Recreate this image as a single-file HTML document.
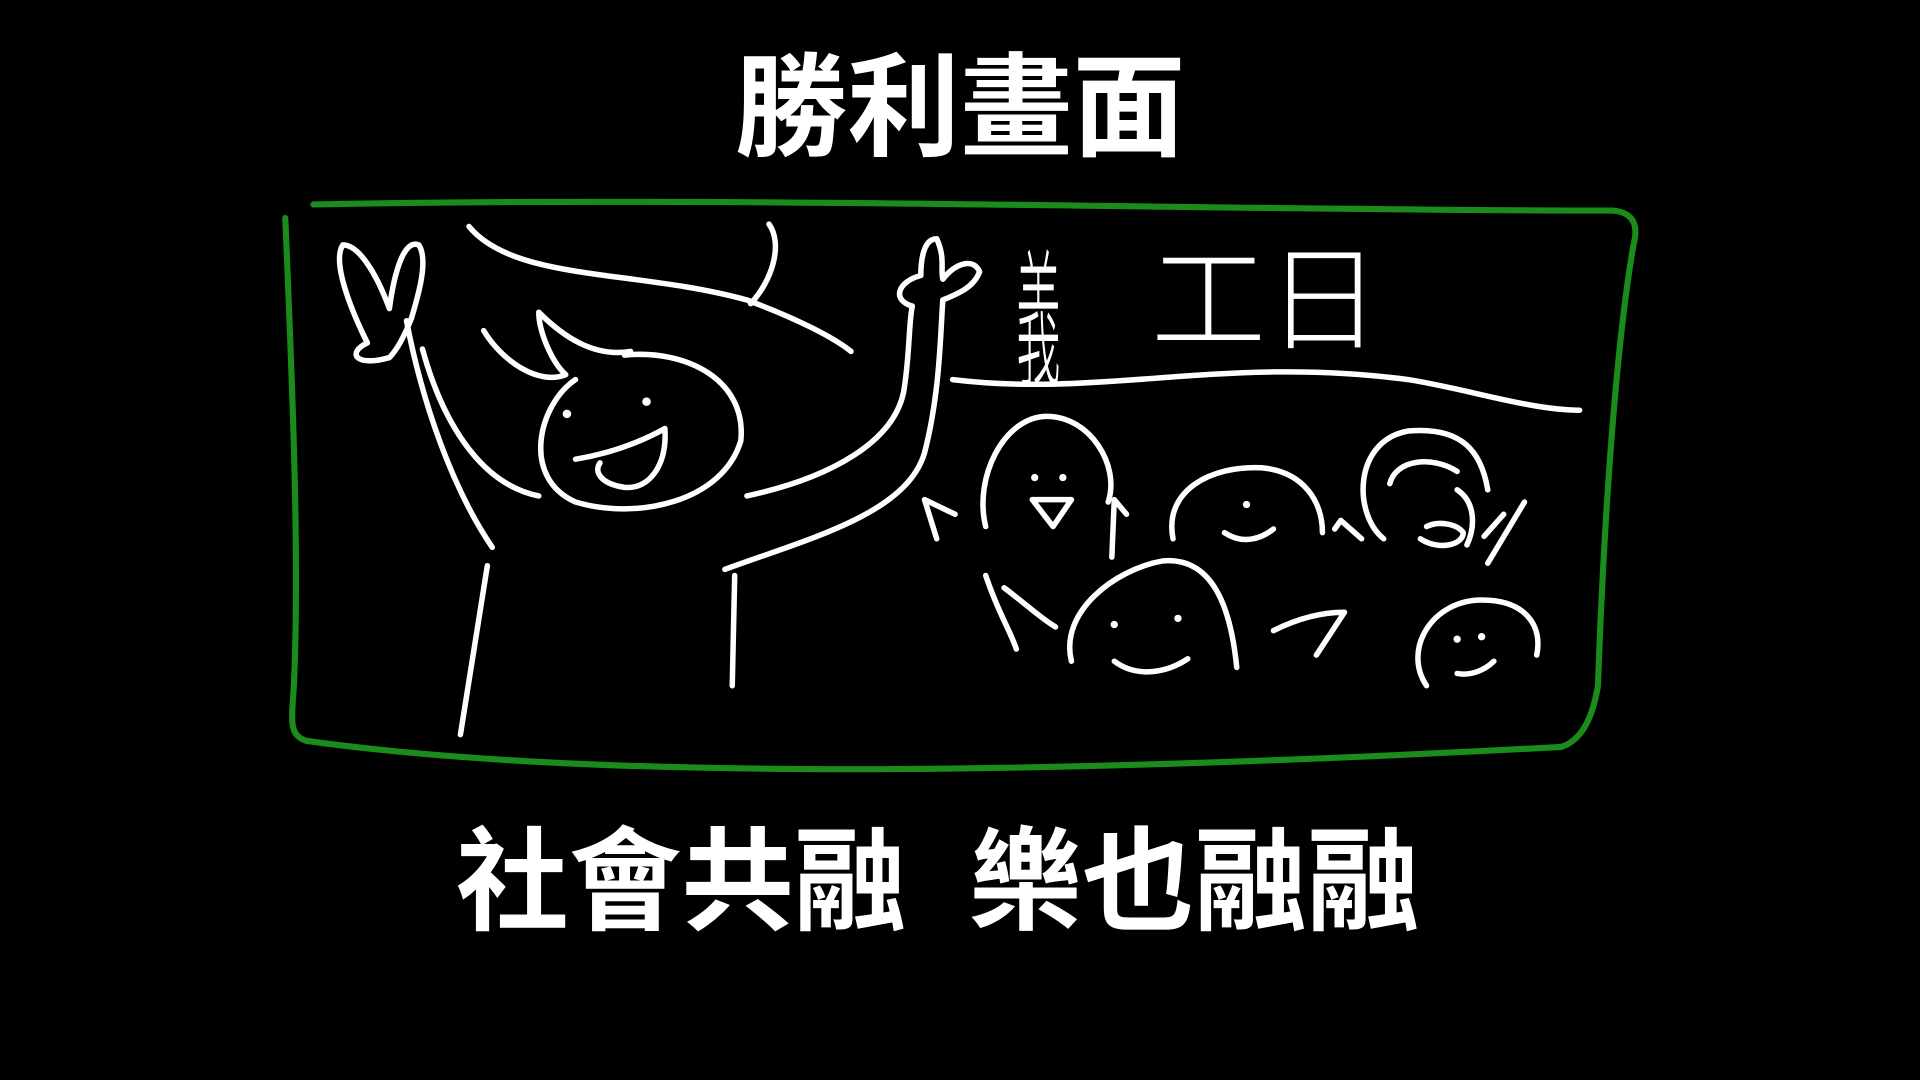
<!DOCTYPE html>
<html><head><meta charset="utf-8"><style>
html,body{margin:0;padding:0;background:#000;width:1920px;height:1080px;overflow:hidden}
svg{display:block}
.w{fill:none;stroke:#fff;stroke-width:4.5;stroke-linecap:round;stroke-linejoin:round}
.t{font-family:"Liberation Sans","Noto Sans CJK TC",sans-serif;font-weight:700;fill:#fff}
</style></head><body>
<svg width="1920" height="1080" viewBox="0 0 1568 882">
<text class="t" x="784" y="120" font-size="92" text-anchor="middle">勝利畫面</text>
<path fill="none" stroke="#1b8c1b" stroke-width="5" stroke-linecap="round" d="M256,167 C600,160 1000,172 1318,172 C1335,174 1338,185 1334,200 C1320,280 1310,420 1305,560 C1300,590 1290,605 1275,610 C900,630 500,640 250,605 C236,600 238,590 240,560 C245,450 238,300 233,178"/>
<g>
<path class="w" d="M300,280 C290,260 270,215 280,200 C295,200 310,230 318,252 C322,222 330,195 342,200 C350,212 342,240 336,260"/>
<path class="w" d="M300,280 C283,288 290,300 318,292 C325,285 332,270 336,260"/>
<path class="w" d="M332,262 C345,330 370,400 402,447"/>
<path class="w" d="M345,285 C360,340 390,395 440,405"/>
<path class="w" d="M398,462 L376,600"/>
<path class="w" d="M600,470 L598,560"/>
<path class="w" d="M592,465 C660,440 740,420 755,370 C768,320 768,270 770,245"/>
<path class="w" d="M610,405 C680,390 730,360 738,320 C743,290 742,265 745,250"/>
<path class="w" d="M745,250 C728,245 733,230 752,225 C752,210 755,195 765,195 C772,210 768,220 770,228 C780,215 795,210 800,222 C795,235 782,240 770,245"/>
<path class="w" d="M470,310 C440,330 425,390 470,410 C520,425 590,410 605,360 C610,310 560,285 510,290"/>
<path class="w" d="M395,270 C410,295 440,315 462,306 C450,295 440,270 440,255 C460,275 485,292 515,287"/>
<circle cx="463" cy="338" r="3.5" fill="#fff"/><circle cx="528" cy="328" r="3.5" fill="#fff"/>
<path class="w" d="M470,375 C500,370 525,360 543,350 C545,380 530,400 510,398 C490,395 485,385 490,378"/>
<path class="w" d="M383,185 C420,230 520,220 610,245 C650,260 680,275 695,287"/>
<path class="w" d="M628,183 C640,200 630,230 613,248"/>
</g>
<g>
<text x="0" y="0" font-size="36" fill="#fff" font-family="'Noto Sans CJK TC',sans-serif" font-weight="300" text-anchor="middle" transform="translate(848,306) scale(1,3.4)">義</text>
<text x="940" y="278" font-size="94" fill="#fff" font-family="'Noto Sans CJK TC',sans-serif" font-weight="200">工日</text>
<path class="w" d="M778,310 C900,325 1000,290 1150,310 C1200,318 1250,335 1290,335"/>
</g>
<g>
<path class="w" d="M805,430 C795,390 820,340 855,340 C890,340 915,380 905,410"/>
<path class="w" d="M843,408 L875,408 L860,430 Z"/>
<circle cx="845" cy="390" r="3" fill="#fff"/><circle cx="868" cy="390" r="3" fill="#fff"/>
<path class="w" d="M765,440 L755,408 L780,420"/><path class="w" d="M908,455 L910,408 L920,420"/>
<path class="w" d="M958,440 C950,400 990,380 1030,382 C1065,385 1080,410 1080,435"/>
<circle cx="1018" cy="412" r="3" fill="#fff"/><path class="w" d="M1000,435 C1015,445 1030,440 1040,432"/>
<path class="w" d="M1090,432 L1095,425 L1112,440"/>
<path class="w" d="M1130,440 C1105,420 1105,360 1150,352 C1195,348 1210,370 1215,400"/>
<path class="w" d="M1135,395 C1140,375 1170,372 1190,385"/>
<path class="w" d="M1165,430 C1175,425 1190,428 1195,435 C1195,445 1175,450 1160,440"/>
<path class="w" d="M1190,400 C1205,410 1205,430 1198,445"/>
<path class="w" d="M1215,460 L1245,410 M1212,438 L1228,420"/>
<path class="w" d="M805,470 C815,500 825,515 830,530 M820,480 C840,495 850,505 862,512"/>
<path class="w" d="M875,540 C865,500 910,465 950,458 C990,455 1005,495 1010,545"/>
<circle cx="910" cy="510" r="3" fill="#fff"/><circle cx="962" cy="505" r="3" fill="#fff"/>
<path class="w" d="M910,540 C930,555 955,548 970,538"/>
<path class="w" d="M1040,515 C1060,505 1080,500 1098,500 L1075,535"/>
<path class="w" d="M1165,560 C1145,530 1170,490 1210,490 C1245,490 1260,510 1255,535"/>
<circle cx="1190" cy="522" r="3" fill="#fff"/><circle cx="1210" cy="520" r="3" fill="#fff"/>
<path class="w" d="M1190,550 C1200,552 1212,548 1220,540"/>
</g>
<text class="t" x="766" y="752" font-size="92" text-anchor="middle" xml:space="preserve">社會共融  樂也融融</text>
</svg>
</body></html>
